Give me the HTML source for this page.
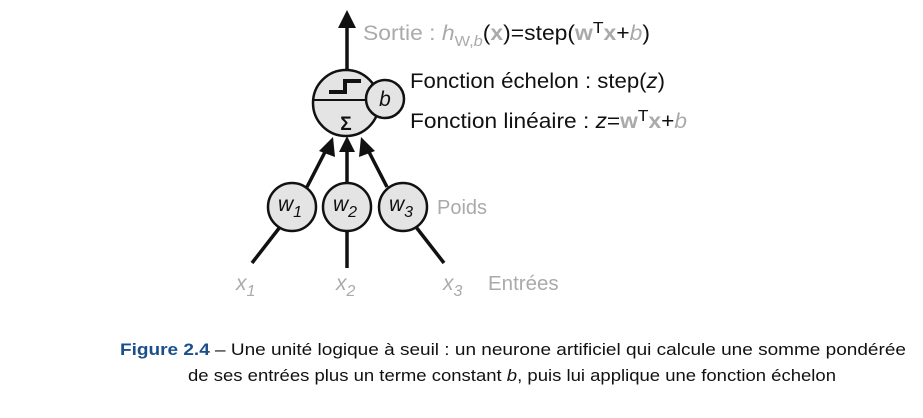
<!DOCTYPE html>
<html><head><meta charset="utf-8"><style>
html,body{margin:0;padding:0;background:#fff;}
svg{display:block;font-family:"Liberation Sans",sans-serif;}
</style></head><body>
<svg width="923" height="418" viewBox="0 0 923 418" xmlns="http://www.w3.org/2000/svg">
<g stroke="#111" stroke-width="3.5" fill="none">
<line x1="347" y1="70" x2="347" y2="26"/>
<line x1="252" y1="263" x2="280" y2="227"/>
<line x1="347" y1="268" x2="347" y2="231"/>
<line x1="444" y1="263" x2="416" y2="227"/>
<line x1="307" y1="187" x2="325" y2="152"/>
<line x1="347" y1="183" x2="347" y2="150"/>
<line x1="387" y1="187" x2="369" y2="152"/>
</g>
<polygon points="347,10 338,28 356,28" fill="#111"/>
<polygon points="333,137 319,151 335,157" fill="#111"/>
<polygon points="347,136 339,152 355,152" fill="#111"/>
<polygon points="361,137 375,151 359,157" fill="#111"/>
<circle cx="346" cy="103" r="33" fill="#e4e4e4" stroke="#111" stroke-width="2.5"/>
<line x1="313" y1="100" x2="379" y2="100" stroke="#111" stroke-width="2"/>
<path d="M329,92 L345,92 L345,81 L361,81" stroke="#111" stroke-width="4" fill="none"/>
<text x="346" y="130" font-size="19" font-weight="bold" text-anchor="middle" fill="#111">Σ</text>
<circle cx="385" cy="99" r="19" fill="#e4e4e4" stroke="#111" stroke-width="2.5"/>
<text x="385" y="106" font-size="21" font-style="italic" text-anchor="middle" fill="#111">b</text>
<g fill="#e4e4e4" stroke="#111" stroke-width="2.5">
<circle cx="292" cy="207" r="24"/><circle cx="347" cy="207" r="24"/><circle cx="403" cy="207" r="24"/>
</g>
<g font-size="21" font-style="italic" fill="#111">
<text x="278" y="211">w<tspan font-size="16" dy="6">1</tspan></text>
<text x="333" y="211">w<tspan font-size="16" dy="6">2</tspan></text>
<text x="389" y="211">w<tspan font-size="16" dy="6">3</tspan></text>
</g>
<text x="437" y="214" font-size="20" fill="#aaa">Poids</text>
<g font-size="21" font-style="italic" fill="#aaa">
<text x="236" y="290">x<tspan font-size="16" dy="6">1</tspan></text>
<text x="336" y="290">x<tspan font-size="16" dy="6">2</tspan></text>
<text x="443" y="290">x<tspan font-size="16" dy="6">3</tspan></text>
</g>
<text x="488" y="290" font-size="20.5" fill="#aaa">Entrées</text>
<text x="363" y="40" font-size="21" fill="#aaa" textLength="287" lengthAdjust="spacingAndGlyphs">Sortie : <tspan font-style="italic">h</tspan><tspan font-size="15" dy="6">W,<tspan font-style="italic">b</tspan></tspan><tspan dy="-6" fill="#111">(</tspan><tspan font-weight="bold">x</tspan><tspan fill="#111">)=step(</tspan><tspan font-weight="bold">w</tspan><tspan fill="#111" font-size="16" dy="-7">T</tspan><tspan font-weight="bold" dy="7">x</tspan><tspan fill="#111">+</tspan><tspan font-style="italic">b</tspan><tspan fill="#111">)</tspan></text>
<text x="410" y="88" font-size="21" fill="#111" textLength="255" lengthAdjust="spacingAndGlyphs">Fonction échelon : step(<tspan font-style="italic">z</tspan>)</text>
<text x="410" y="128" font-size="21" fill="#111" textLength="277" lengthAdjust="spacingAndGlyphs">Fonction linéaire : <tspan font-style="italic">z</tspan>=<tspan font-weight="bold" fill="#aaa">w</tspan><tspan font-size="16" dy="-7">T</tspan><tspan font-weight="bold" fill="#aaa" dy="7">x</tspan>+<tspan font-style="italic" fill="#aaa">b</tspan></text>
<text x="120" y="355" font-size="17" fill="#111" textLength="786" lengthAdjust="spacingAndGlyphs"><tspan font-weight="bold" fill="#1a4f8a">Figure 2.4</tspan>  –  Une unité logique à seuil : un neurone artificiel qui calcule une somme pondérée</text>
<text x="188" y="381" font-size="17" fill="#111" textLength="648" lengthAdjust="spacingAndGlyphs">de ses entrées plus un terme constant <tspan font-style="italic">b</tspan>, puis lui applique une fonction échelon</text>
</svg>
</body></html>
